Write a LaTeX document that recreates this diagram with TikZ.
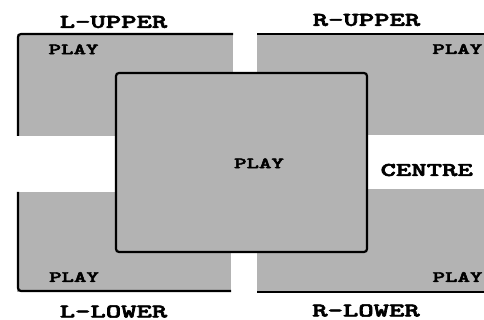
\documentclass[tikz,border=0pt]{standalone}
\usepackage{fontspec}
\usepackage{graphicx}
\newfontfamily\courbold{lmmonolt10-bold}[Extension=.otf,FakeBold=2.5]
\definecolor{panelgray}{RGB}{179,179,179}
\tikzset{
  panel/.style={fill=panelgray, draw=none},
  rim/.style={draw=black, line width=2.2pt, rounded corners=3pt},
  bigtext/.style={inner sep=0pt, font=\courbold\fontsize{19.5}{20}\selectfont},
  playtext/.style={inner sep=0pt, font=\courbold\fontsize{15.8}{16}\selectfont}
}
\newcommand{\wide}[1]{\scalebox{1.5}[1]{#1}}
\begin{document}
\begin{tikzpicture}[x=1pt,y=-1pt]
\useasboundingbox (0,0) rectangle (484,320);
% L-upper
\fill[panel] (17,34) rectangle (233,136);
\draw[rim] (18,136) -- (18,34) -- (233,34);
% R-upper
\fill[panel] (257,34) rectangle (484,135);
\draw[rim] (257,34) -- (484,34);
% L-lower
\fill[panel] (17,192) rectangle (231,292);
\draw[rim] (18,192) -- (18,291) -- (231,291);
% R-lower
\fill[panel] (257,189) rectangle (484,292);
\draw[rim] (257,292) -- (484,292);
% centre
\draw[rim, fill=panelgray] (116,73) rectangle (367,252);
% labels
\node[bigtext] (lu) at (113.5,22) {\wide{L-UPPER}};
\node[bigtext] (ru) at (366.5,20) {\wide{R-UPPER}};
\node[bigtext] (ll) at (113.5,311.5) {\wide{L-LOWER}};
\node[bigtext] (rl) at (366,310.5) {\wide{R-LOWER}};
\node[bigtext] (ce) at (426.7,170) {\wide{CENTRE}};
\node[playtext] (p1) at (73.5,49.3) {\wide{PLAY}};
\node[playtext] (p2) at (457.3,49) {\wide{PLAY}};
\node[playtext] (p3) at (74,277) {\wide{PLAY}};
\node[playtext] (p4) at (457.5,277) {\wide{PLAY}};
\node[playtext] (p5) at (259,163.3) {\wide{PLAY}};
\end{tikzpicture}
\end{document}
